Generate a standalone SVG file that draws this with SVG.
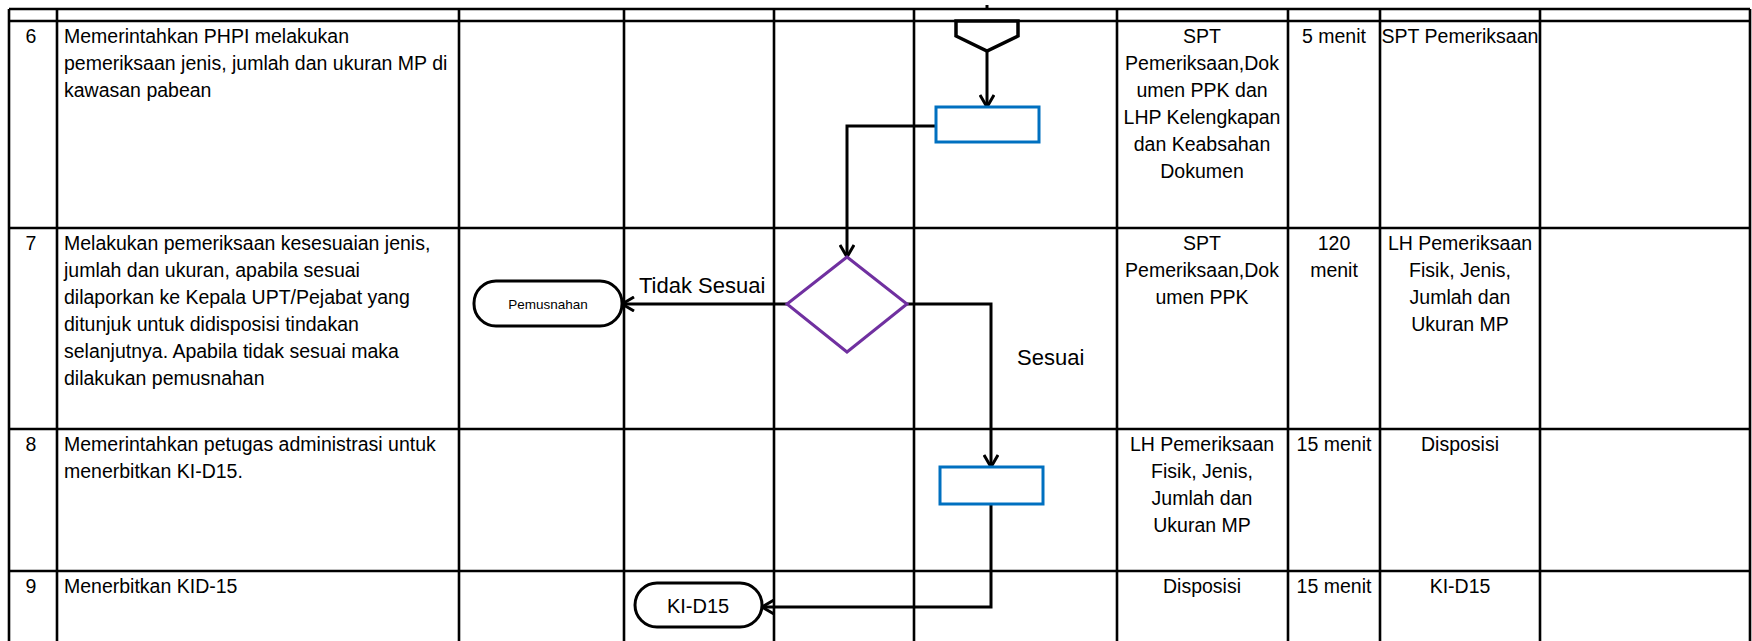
<svg xmlns="http://www.w3.org/2000/svg" width="1752" height="641" viewBox="0 0 1752 641">
<style>
.grid{stroke:#000;stroke-width:2.6;fill:none}
.t{font-family:"Liberation Sans",Arial,sans-serif;font-size:19.5px;fill:#000}
.c{text-anchor:middle}
.lbl{font-family:"Liberation Sans",Arial,sans-serif;font-size:22px;fill:#000}
.conn{stroke:#000;stroke-width:3;fill:none}
.proc{fill:#fff;stroke:#0070C0;stroke-width:3}
.term{fill:#fff;stroke:#000;stroke-width:3}
</style>
<defs>
<marker id="arr" viewBox="0 0 16 16" refX="14" refY="8" markerWidth="16" markerHeight="16" markerUnits="userSpaceOnUse" orient="auto">
<path d="M2,1 L14,8 L2,15" fill="none" stroke="#000" stroke-width="3"/>
</marker>
</defs>
<rect width="1752" height="641" fill="#fff"/>
<g id="table">
<path class="grid" d="M9,9 H1750 M9,21 H1750 M9,228 H1750 M9,429 H1750 M9,571 H1750"/>
<path class="grid" d="M9,9 V641 M57,9 V641 M459,9 V641 M624,9 V641 M774,9 V641 M914,9 V641 M1117,9 V641 M1288,9 V641 M1380,9 V641 M1540,9 V641 M1750,9 V641"/>
</g>
<g id="row6" class="t">
<text x="31" y="43" class="c">6</text>
<text x="64" y="43">Memerintahkan PHPI melakukan</text>
<text x="64" y="70">pemeriksaan jenis, jumlah dan ukuran MP di</text>
<text x="64" y="97">kawasan pabean</text>
<text x="1202" y="43" class="c">SPT</text>
<text x="1202" y="70" class="c">Pemeriksaan,Dok</text>
<text x="1202" y="97" class="c">umen PPK dan</text>
<text x="1202" y="124" class="c">LHP Kelengkapan</text>
<text x="1202" y="151" class="c">dan Keabsahan</text>
<text x="1202" y="178" class="c">Dokumen</text>
<text x="1334" y="43" class="c">5 menit</text>
<text x="1460" y="43" class="c">SPT Pemeriksaan</text>
</g>
<g id="row7" class="t">
<text x="31" y="250" class="c">7</text>
<text x="64" y="250">Melakukan pemeriksaan kesesuaian jenis,</text>
<text x="64" y="277">jumlah dan ukuran, apabila sesuai</text>
<text x="64" y="304">dilaporkan ke Kepala UPT/Pejabat yang</text>
<text x="64" y="331">ditunjuk untuk didisposisi tindakan</text>
<text x="64" y="358">selanjutnya. Apabila tidak sesuai maka</text>
<text x="64" y="385">dilakukan pemusnahan</text>
<text x="1202" y="250" class="c">SPT</text>
<text x="1202" y="277" class="c">Pemeriksaan,Dok</text>
<text x="1202" y="304" class="c">umen PPK</text>
<text x="1334" y="250" class="c">120</text>
<text x="1334" y="277" class="c">menit</text>
<text x="1460" y="250" class="c">LH Pemeriksaan</text>
<text x="1460" y="277" class="c">Fisik, Jenis,</text>
<text x="1460" y="304" class="c">Jumlah dan</text>
<text x="1460" y="331" class="c">Ukuran MP</text>
</g>
<g id="row8" class="t">
<text x="31" y="451" class="c">8</text>
<text x="64" y="451">Memerintahkan petugas administrasi untuk</text>
<text x="64" y="478">menerbitkan KI-D15.</text>
<text x="1202" y="451" class="c">LH Pemeriksaan</text>
<text x="1202" y="478" class="c">Fisik, Jenis,</text>
<text x="1202" y="505" class="c">Jumlah dan</text>
<text x="1202" y="532" class="c">Ukuran MP</text>
<text x="1334" y="451" class="c">15 menit</text>
<text x="1460" y="451" class="c">Disposisi</text>
</g>
<g id="row9" class="t">
<text x="31" y="593" class="c">9</text>
<text x="64" y="593">Menerbitkan KID-15</text>
<text x="1202" y="593" class="c">Disposisi</text>
<text x="1334" y="593" class="c">15 menit</text>
<text x="1460" y="593" class="c">KI-D15</text>
</g>
<g id="connectors">
<path class="conn" d="M987,5 V9"/>
<path class="conn" d="M987,50 V107" marker-end="url(#arr)"/>
<path class="conn" d="M936,126 H847 V257" marker-end="url(#arr)"/>
<path class="conn" d="M787,304 H622" marker-end="url(#arr)"/>
<path class="conn" d="M907,304 H991 V467" marker-end="url(#arr)"/>
<path class="conn" d="M991,504 V607 H762" marker-end="url(#arr)"/>
<text class="lbl" x="639" y="293">Tidak Sesuai</text>
<text class="lbl" x="1017" y="365">Sesuai</text>
</g>
<g id="offpage">
<path d="M956,21 H1018 V36 L987,51 L956,36 Z" fill="#fff" stroke="#000" stroke-width="3.5" stroke-linejoin="miter"/>
</g>
<g id="proc1"><rect class="proc" x="936" y="107" width="103" height="35"/></g>
<g id="decision"><path d="M847,257 L907,304 L847,352 L787,304 Z" fill="#fff" stroke="#7030A0" stroke-width="3"/></g>
<g id="pemusnahan">
<rect class="term" x="474" y="281" width="148" height="45" rx="22" ry="22"/>
<text x="548" y="309" font-family="'Liberation Sans',Arial,sans-serif" font-size="13.5" text-anchor="middle">Pemusnahan</text>
</g>
<g id="proc2"><rect class="proc" x="940" y="467" width="103" height="37"/></g>
<g id="kid15">
<rect class="term" x="635" y="583" width="127" height="44" rx="22" ry="22"/>
<text x="698" y="613" font-family="'Liberation Sans',Arial,sans-serif" font-size="20" text-anchor="middle">KI-D15</text>
</g>
</svg>
